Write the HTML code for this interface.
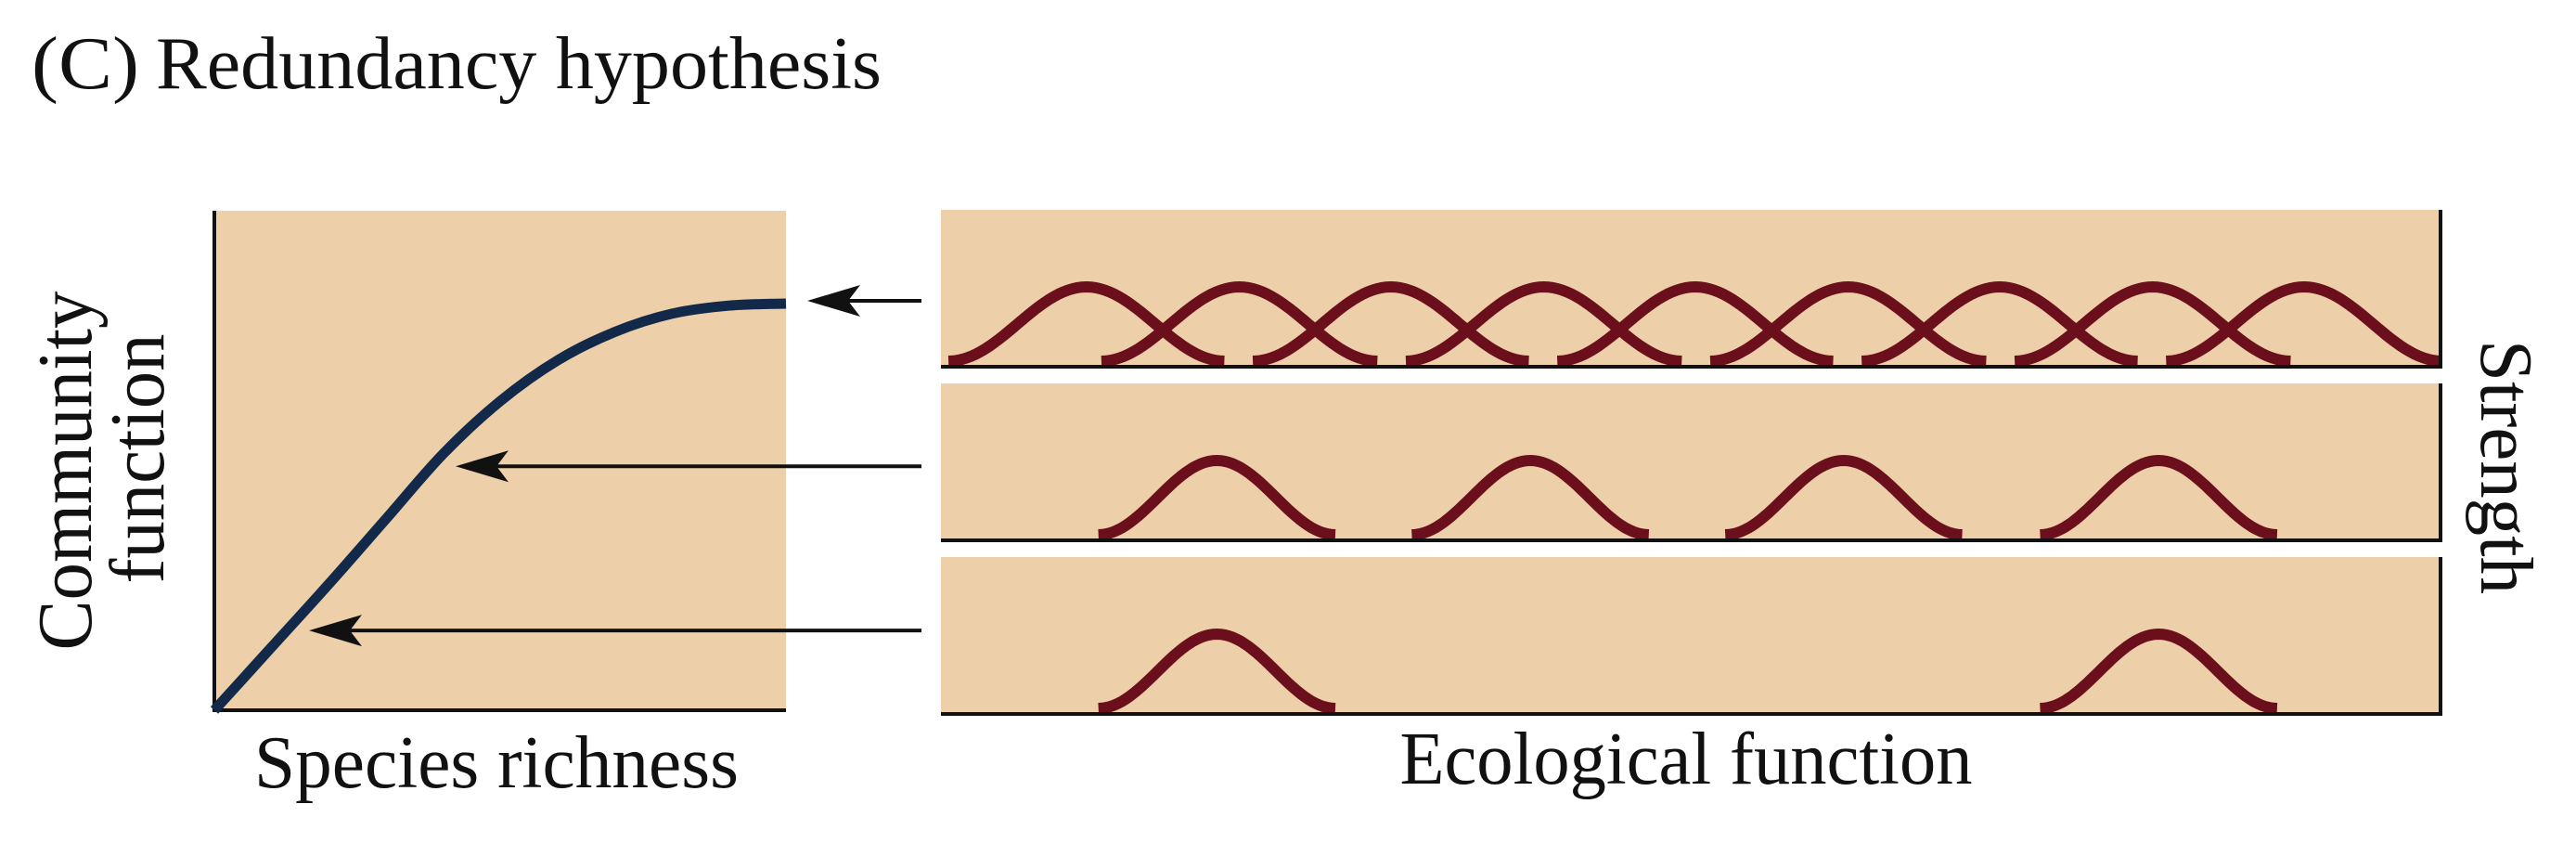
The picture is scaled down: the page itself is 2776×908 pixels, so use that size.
<!DOCTYPE html>
<html><head><meta charset="utf-8"><style>
html,body{margin:0;padding:0;background:#fff;}
svg{display:block;font-family:"Liberation Serif",serif;}
</style></head><body>
<svg width="2776" height="908" viewBox="0 0 2776 908">
<g id="root"></g>
</svg>
<script>
// Left chart data (species richness -> community function), normalized 0..1
const richness = [0, 0.1, 0.2, 0.3, 0.4, 0.5, 0.6, 0.7, 0.8, 0.9, 1];
const communityFn = [0, 0.155, 0.31, 0.47, 0.63, 0.76, 0.86, 0.93, 0.975, 0.995, 1];
// Right panels: peak centers on ecological function axis (0..100)
const panel1Peaks = [9.7, 19.9, 30.0, 40.2, 50.3, 60.5, 70.6, 80.8, 90.9];
const panel2Peaks = [18.4, 39.3, 60.2, 81.2];
const panel3Peaks = [18.4, 81.2];
const peakStrength = [1, 1, 1];
// Arrow targets: community function levels pointed at by each panel
const arrowLevels = [1, 0.60, 0.196];

const NS = "http://www.w3.org/2000/svg";
const root = document.getElementById('root');
function mk(tag, attrs, parent){const e=document.createElementNS(NS,tag);for(const k in attrs)e.setAttribute(k,attrs[k]);(parent||root).appendChild(e);return e;}

const LX0=231, LX1=847, LY0=765, LY1=327, LTOP=227;
const xL = v => LX0 + v*(LX1-LX0);
const yL = v => LY0 - v*(LY0-LY1);

let e;
e=mk('text',{x:34,y:95,'font-size':80,fill:'#111',textLength:116,lengthAdjust:'spacingAndGlyphs'});e.textContent='(C)';


e=mk('text',{x:168,y:95,'font-size':80,fill:'#111',textLength:782,lengthAdjust:'spacingAndGlyphs'});e.textContent='Redundancy hypothesis';



e=mk('rect',{x:LX0,y:LTOP,width:LX1-LX0,height:LY0-LTOP,fill:'#edd0aa'});


e=mk('path',{d:`M${LX0} ${LTOP} V${LY0} H${LX1}`,stroke:'#111','stroke-width':4,fill:'none'});



const pts = richness.map((r,i)=>[xL(r), yL(communityFn[i])]);
let d=`M${pts[0][0]} ${pts[0][1]}`;
for(let i=0;i<pts.length-1;i++){
  const p0=pts[Math.max(0,i-1)],p1=pts[i],p2=pts[i+1],p3=pts[Math.min(pts.length-1,i+2)];
  const c1=[p1[0]+(p2[0]-p0[0])/6,p1[1]+(p2[1]-p0[1])/6];
  const c2=[p2[0]-(p3[0]-p1[0])/6,p2[1]-(p3[1]-p1[1])/6];
  d+=` C${c1[0]} ${c1[1]} ${c2[0]} ${c2[1]} ${p2[0]} ${p2[1]}`;
}
e=mk('path',{d:d,stroke:'#12294a','stroke-width':11,fill:'none'});



e=mk('text',{x:0,y:0,'font-size':84,fill:'#111','text-anchor':'middle',textLength:387,lengthAdjust:'spacingAndGlyphs',transform:'translate(98,507) rotate(-90)'});e.textContent='Community';


e=mk('text',{x:0,y:0,'font-size':84,fill:'#111','text-anchor':'middle',textLength:269,lengthAdjust:'spacingAndGlyphs',transform:'translate(176,494) rotate(-90)'});e.textContent='function';


e=mk('text',{x:535,y:848,'font-size':80,fill:'#111','text-anchor':'middle',textLength:522,lengthAdjust:'spacingAndGlyphs'});e.textContent='Species richness';



const RX0=1014, RX1=2630;
const xR = v => RX0 + v/100*(RX1-RX0);
const panels=[{top:226,bot:395,peaks:panel1Peaks,hw:9.2},{top:413,bot:582,peaks:panel2Peaks,hw:7.9},{top:600,bot:769,peaks:panel3Peaks,hw:7.9}];
const amp=80;
panels.forEach((p,pi)=>{
  const g=mk('g',{});
  
  
  e=mk('rect',{x:RX0,y:p.top,width:RX1-RX0,height:p.bot-p.top,fill:'#edd0aa'},g);
  
  
  const base=p.bot-6;
  p.peaks.forEach(c=>{
    let dd='';
    for(let k=0;k<=60;k++){
      const t=-1+2*k/60;
      const xv=c+t*p.hw;
      const yv=base-peakStrength[pi]*amp*(1+Math.cos(Math.PI*t))/2;
      dd+=(k?'L':'M')+xR(xv).toFixed(1)+' '+yv.toFixed(1)+' ';
    }
    e=mk('path',{d:dd,stroke:'#6b0f1c','stroke-width':12,fill:'none'},g);
    
    
  });
  e=mk('path',{d:`M${RX0} ${p.bot} H${RX1} V${p.top}`,stroke:'#111','stroke-width':4,fill:'none'},g);
  
  
});

const arrowTipX=[870,491,333];
arrowLevels.forEach((lv,i)=>{
  const y=yL(lv)- (i===0?3:0);
  const tip=arrowTipX[i];
  const g=mk('g',{});
  
  
  mk('line',{x1:tip+20,y1:y,x2:993,y2:y,stroke:'#111','stroke-width':4},g);
  mk('path',{d:`M${tip} ${y} L${tip+57} ${y-17} L${tip+44} ${y} L${tip+57} ${y+17} Z`,fill:'#111'},g);
});

e=mk('text',{x:1817,y:844,'font-size':80,fill:'#111','text-anchor':'middle',textLength:617,lengthAdjust:'spacingAndGlyphs'});e.textContent='Ecological function';


e=mk('text',{x:0,y:0,'font-size':80,fill:'#111','text-anchor':'middle',textLength:274,lengthAdjust:'spacingAndGlyphs',transform:'translate(2674,503) rotate(90)'});e.textContent='Strength';


</script>
</body></html>
